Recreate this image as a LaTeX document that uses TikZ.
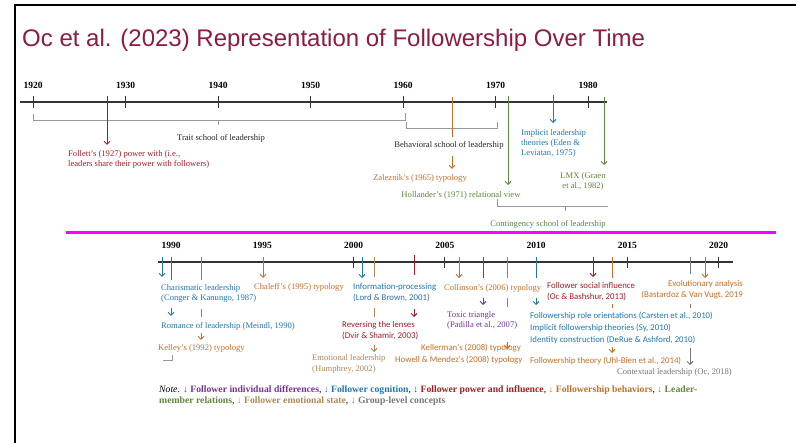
\documentclass[tikz,border=0pt]{standalone}
\usepackage{fontspec}
\setmainfont{Liberation Serif}
\newfontfamily\titlefont{Liberation Sans}
\newfontfamily\labelsans{Carlito}
\usetikzlibrary{arrows.meta}

\definecolor{titlered}{RGB}{140,27,70}
\definecolor{fred}{RGB}{165,28,36}
\definecolor{fblue}{RGB}{33,118,176}
\definecolor{forange}{RGB}{200,110,40}
\definecolor{fgreen}{RGB}{96,135,60}
\definecolor{fpurple}{RGB}{120,50,150}
\definecolor{ftan}{RGB}{176,136,84}
\definecolor{fgray}{RGB}{120,120,120}
\definecolor{divider}{RGB}{255,0,255}

\tikzset{
  axis/.style={line width=1.6pt, draw=black!80},
  yeartick/.style={line width=0.8pt, draw=black!80},
  year/.style={font=\bfseries\fontsize{9.5}{11}\selectfont, inner sep=0pt},
  school/.style={draw=black!40, line width=0.6pt},
  evt/.style={line width=1pt},
  evtarrow/.style={line width=1pt, -{Straight Barb[length=3pt,width=6pt]}},
  serif/.style={font=\fontsize{8.6}{10.6}\selectfont, inner sep=0pt, align=left},
  sans/.style={font=\labelsans\fontsize{8.8}{11}\selectfont, inner sep=0pt, align=left},
}

\begin{document}
\begin{tikzpicture}[x=1pt, y=-1pt]
  \useasboundingbox (0,0) rectangle (796,443);
  \fill[white] (0,0) rectangle (796,443);
  % slide frame
  \draw[line width=2pt] (15,443) -- (15,5) -- (796,5);
  \node[font=\titlefont\fontsize{24}{28}\selectfont, text=titlered, anchor=west, inner sep=0pt]
    (title) at (22,40) {Oc et al. (2023) Representation of Followership Over Time};

  % upper time line 1920--1980
  \draw[axis] (20,102) -- (607,102);
  \foreach \yr [evaluate=\yr as \xx using 33+(\yr-1920)*9.254] in {1920,1930,...,1980} {
    \draw[yeartick] (\xx,96) -- (\xx,108);
    \node[year] (y\yr) at (\xx,85) {\yr};
  }

  % schools of leadership
  \draw[school] (33,114) -- (33,120) -- (405,120) -- (405,113) (218,120) -- (218,125);
  \node[serif, text=black!85] (trait) at (221,138) {Trait school of leadership};
  \draw[school] (406,122) -- (406,128) -- (497,128) -- (497,122);
  \node[serif, text=black!85] (behav) at (449,145) {Behavioral school of leadership};
  \draw[school] (497,199) -- (497,206) -- (608,206) (565,206) -- (565,211);
  \node[serif, text=fgreen] (conting) at (548,224) {Contingency school of leadership};

  % upper events
  \coordinate (cFollett) at (107,96);
  \coordinate (cZaleznik) at (452,97);
  \coordinate (cHollander) at (508,96);
  \coordinate (cImplicit) at (553,95);
  \coordinate (cLMX) at (604,97);

  \draw[evtarrow, fred] (cFollett) -- ++(0,49);
  \node[serif, text=fred, anchor=west] (follett) at (68,159.5)
    {Follett's (1927) power with (i.e.,\\leaders share their power with followers)};
  \draw[evt, forange] (cZaleznik) -- ++(0,40);
  \draw[evtarrow, forange] (cZaleznik) ++(0,59) -- ++(0,13);
  \node[serif, text=forange] (zaleznik) at (420,178) {Zaleznik's (1965) typology};
  \draw[evtarrow, fgreen] (cHollander) -- ++(0,89);
  \node[serif, text=fgreen] (hollander) at (461,195) {Hollander's (1971) relational view};
  \draw[evtarrow, fblue] (cImplicit) -- ++(0,28);
  \node[serif, text=fblue, anchor=west, font=\fontsize{8.6}{10}\selectfont] (implicit) at (521,143)
    {Implicit leadership\\theories (Eden \&\\Leviatan, 1975)};
  \draw[evtarrow, fgreen] (cLMX) -- ++(0,68);
  \node[serif, text=fgreen, align=center] (lmx) at (583,181.5) {LMX (Graen\\et al., 1982)};

  % divider
  \draw[line width=3pt, divider] (66,233) -- (776,233);

  % lower time line 1990--2020
  \draw[axis] (158,262) -- (733,262);
  \foreach \yr [evaluate=\yr as \xx using 171+(\yr-1990)*18.25] in {1990,1995,...,2020} {
    \node[year] (y\yr) at (\xx,245) {\yr};
  }
  \foreach \yr [evaluate=\yr as \xx using 171+(\yr-1990)*18.25] in {2000,2005,2015,2020} {
    \draw[yeartick] (\xx,257) -- (\xx,268);
  }

  % lower events
  \coordinate (cCharisma) at (162,257);
  \coordinate (cRomance) at (171,257);
  \coordinate (cKelley) at (201,257);
  \coordinate (cChaleff) at (263,257);
  \coordinate (cInfo) at (362,257);
  \coordinate (cEmotion) at (374,257);
  \coordinate (cLenses) at (414,255);
  \coordinate (cCollinson) at (459,257);
  \coordinate (cToxic) at (483,257);
  \coordinate (cKellerman) at (507,257);
  \coordinate (cRoles) at (536,257);
  \coordinate (cSocial) at (593,257);
  \coordinate (cUhlBien) at (612,257);
  \coordinate (cContext) at (690,257);
  \coordinate (cEvolution) at (705,257);

  \draw[evtarrow, fblue] (cCharisma) -- ++(0,20);
  \node[serif, text=fblue, anchor=west] (charisma) at (161,293.5)
    {Charismatic leadership\\(Conger \& Kanungo, 1987)};
  \draw[evt, fblue] (cRomance) -- ++(0,23);
  \draw[evtarrow, fblue] (cRomance) ++(0,51) -- ++(0,8);
  \node[serif, text=fblue, anchor=west] (romance) at (161,326) {Romance of leadership (Meindl, 1990)};
  \draw[evt, forange] (cKelley) -- ++(0,23);
  \draw[evt, forange] (cKelley) ++(0,52) -- ++(0,8);
  \draw[evtarrow, forange] (cKelley) ++(0,76) -- ++(0,7);
  \node[serif, text=forange, anchor=west] (kelley) at (158,348) {Kelley's (1992) typology};
  \draw[school] (163,360) -- (172,360) -- (172,355);
  \draw[evtarrow, forange] (cChaleff) -- ++(0,21);
  \node[serif, text=forange, anchor=west] (chaleff) at (254,287) {Chaleff's (1995) typology};

  \draw[evtarrow, fblue] (cInfo) -- ++(0,21);
  \node[sans, text=fblue, anchor=west] (info) at (353,293)
    {Information-processing\\(Lord \& Brown, 2001)};
  \draw[evt, ftan] (cEmotion) -- ++(0,20);
  \draw[evt, ftan] (cEmotion) ++(0,51) -- ++(0,9);
  \draw[evtarrow, ftan] (cEmotion) ++(0,88) -- ++(0,7);
  \node[serif, text=ftan, anchor=west] (emotion) at (312,364)
    {Emotional leadership\\(Humphrey, 2002)};
  \draw[evt, fred] (cLenses) -- ++(0,20);
  \draw[evtarrow, fred] (cLenses) ++(0,54) -- ++(0,8);
  \node[sans, text=fred, anchor=west] (lenses) at (342,330.5)
    {Reversing the lenses\\(Dvir \& Shamir, 2003)};

  \draw[evtarrow, forange] (cCollinson) -- ++(0,21);
  \node[serif, text=forange, anchor=west] (collinson) at (444,288) {Collinson's (2006) typology};
  \draw[evt, fpurple] (cToxic) -- ++(0,21);
  \draw[evtarrow, fpurple] (cToxic) ++(0,41) -- ++(0,7);
  \node[serif, text=fpurple, anchor=west] (toxic) at (447,320.5)
    {Toxic triangle\\(Padilla et al., 2007)};
  \draw[evt, forange] (cKellerman) -- ++(0,21);
  \draw[evt, forange] (cKellerman) ++(0,41) -- ++(0,9);
  \draw[evtarrow, forange] (cKellerman) ++(0,85) -- ++(0,7);
  \node[sans, text=forange, anchor=west] (kellerman) at (421,348) {Kellerman's (2008) typology};
  \node[sans, text=forange, anchor=west] (howell) at (395,360) {Howell \& Mendez's (2008) typology};

  \draw[evt, fblue] (cRoles) -- ++(0,21);
  \draw[evtarrow, fblue] (cRoles) ++(0,41) -- ++(0,7);
  \node[sans, text=fblue, anchor=west] (roles) at (530,316)
    {Followership role orientations (Carsten et al., 2010)};
  \node[sans, text=fblue, anchor=west] (implfol) at (530,328)
    {Implicit followership theories (Sy, 2010)};
  \node[sans, text=fblue, anchor=west] (identity) at (530,340)
    {Identity construction (DeRue \& Ashford, 2010)};
  \draw[evtarrow, fred] (cSocial) -- ++(0,20);
  \node[sans, text=fred, anchor=west] (social) at (547,292)
    {Follower social influence\\(Oc \& Bashshur, 2013)};
  \draw[evt, forange] (cUhlBien) -- ++(0,21);
  \draw[evt, forange] (cUhlBien) ++(0,47) -- ++(0,4);
  \draw[evtarrow, forange] (cUhlBien) ++(0,90) -- ++(0,6);
  \node[sans, text=forange, anchor=west] (uhlbien) at (530,361)
    {Followership theory (Uhl-Bien et al., 2014)};
  \draw[evt, fgray] (cContext) -- ++(0,17);
  \draw[evt, fgray] (cContext) ++(0,47) -- ++(0,4);
  \draw[evtarrow, fgray] (cContext) ++(0,91) -- ++(0,17);
  \node[serif, text=fgray, anchor=west] (context) at (617,372) {Contextual leadership (Oc, 2018)};
  \draw[evtarrow, forange] (cEvolution) -- ++(0,21);
  \node[sans, text=forange, anchor=east, align=right] (evolution) at (743,290)
    {Evolutionary analysis\\(Bastardoz \& Van Vugt, 2019};

  % legend
  \node[font=\fontsize{9.7}{11}\selectfont, inner sep=0pt, anchor=north west, align=left] (note) at (159,385)
    {\textit{Note}. \textbf{\textcolor{fpurple}{↓ Follower individual differences}}, \textbf{\textcolor{fblue}{↓ Follower cognition}}, \textbf{\textcolor{fred}{↓ Follower power and influence}}, \textbf{\textcolor{forange}{↓ Followership behaviors}}, \textbf{\textcolor{fgreen}{↓ Leader-}}\\
     \textbf{\textcolor{fgreen}{member relations}}, \textbf{\textcolor{ftan}{↓ Follower emotional state}}, \textbf{\textcolor{fgray}{↓ Group-level concepts}}};
\end{tikzpicture}
\end{document}
